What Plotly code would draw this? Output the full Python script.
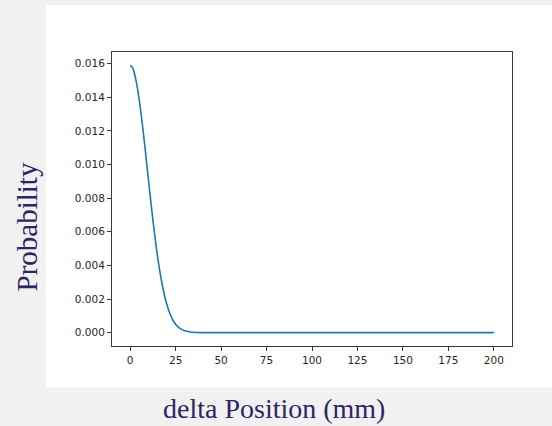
import plotly.graph_objects as go

# Values
delta_pos = [0, 1, 2, 4, 6, 8, 10, 12, 14, 16, 18, 20, 22, 24, 26, 28, 30, 33, 36, 40, 50, 75, 100, 125, 150, 175, 200]
probability = [0.01590, 0.01582, 0.01555, 0.01455, 0.01302, 0.01115, 0.00914, 0.00716, 0.00537,
               0.00385, 0.00264, 0.00173, 0.00109, 0.00065, 0.00038, 0.00021, 0.00011, 0.00004,
               0.00001, 0.0, 0.0, 0.0, 0.0, 0.0, 0.0, 0.0, 0.0]
x_ticks = [0, 25, 50, 75, 100, 125, 150, 175, 200]
y_ticks = [0.000, 0.002, 0.004, 0.006, 0.008, 0.010, 0.012, 0.014, 0.016]
x_title = "delta Position (mm)"
y_title = "Probability"

W, H = 552, 426
L, R, T, B = 112, 40, 52, 80
pw, ph = W - L - R, H - T - B

def px_x(p):
    return (p - L) / pw

def px_y(p):
    return (H - B - p) / ph

fig = go.Figure()
fig.add_trace(go.Scatter(x=delta_pos, y=probability, mode="lines",
                         line=dict(color="#1f77b4", width=1.6, shape="spline", smoothing=0.6),
                         hoverinfo="skip", showlegend=False))

tick_font = dict(family="DejaVu Sans", size=10.5, color="#262626")
axis_common = dict(showline=True, linecolor="#3a3a3a", linewidth=1, mirror=True,
                   ticks="outside", ticklen=4, tickcolor="#3a3a3a", tickwidth=1,
                   showgrid=False, zeroline=False, tickfont=tick_font)

ymax = max(probability)
fig.update_layout(
    width=W, height=H,
    margin=dict(l=L, r=R, t=T, b=B),
    paper_bgcolor="#f1f1f1",
    plot_bgcolor="white",
    xaxis=dict(range=[-10, 210], tickvals=x_ticks, ticktext=[str(v) for v in x_ticks], **axis_common),
    yaxis=dict(range=[-0.05 * ymax, 1.05 * ymax], tickvals=y_ticks,
               ticktext=[f"{v:.3f}" for v in y_ticks], **axis_common),
    shapes=[dict(type="rect", xref="paper", yref="paper", layer="below",
                 x0=px_x(46), x1=px_x(552), y0=px_y(387.5), y1=px_y(5),
                 fillcolor="white", line=dict(width=0))],
    annotations=[
        dict(text=x_title, xref="paper", yref="paper", x=px_x(274), y=px_y(408),
             xanchor="center", yanchor="middle", showarrow=False,
             font=dict(family="Liberation Serif", size=28, color="#2d2468")),
        dict(text=y_title, xref="paper", yref="paper", x=px_x(27), y=px_y(227.5),
             xanchor="center", yanchor="middle", showarrow=False, textangle=-90,
             font=dict(family="Liberation Serif", size=29, color="#2d2468")),
    ],
)

fig.write_html("out.html")
